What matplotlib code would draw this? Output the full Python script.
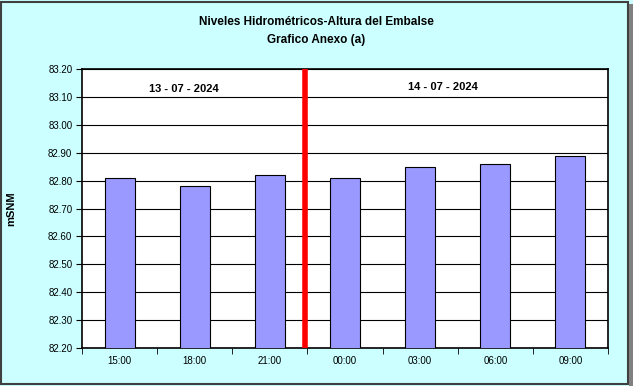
import numpy as np
import matplotlib.pyplot as plt
from matplotlib.patches import Rectangle

plt.rcParams['font.family'] = ['Liberation Sans', 'DejaVu Sans']

horas = ['15:00', '18:00', '21:00', '00:00', '03:00', '06:00', '09:00']
alturas = [82.81, 82.78, 82.82, 82.81, 82.85, 82.86, 82.89]
fechas = ['13 - 07 - 2024', '14 - 07 - 2024']
yticks = np.arange(82.20, 83.21, 0.10)

fig = plt.figure(figsize=(6.33, 3.86), dpi=100, facecolor='#CCFFFF')
ax = fig.add_axes([0.1295, 0.0984, 0.831, 0.7228])

x = np.arange(len(horas))
ax.bar(x, alturas, width=0.4, color='#9999FF', edgecolor='black', linewidth=0.8, zorder=3)
ax.set_xlim(-0.5, len(horas) - 0.5)
ax.set_ylim(82.20, 83.20)
ax.set_yticks(yticks)
ax.set_yticklabels(['%.2f' % v for v in yticks], fontsize=7)
ax.yaxis.grid(True, color='black', linewidth=0.8, zorder=0)

ax.set_xticks(x)
ax.set_xticklabels(horas, fontsize=7)
ax.tick_params(axis='x', length=0, pad=6)
ax.set_xticks(np.arange(-0.5, len(horas)), minor=True)
ax.tick_params(axis='x', which='minor', length=4, direction='out')
ax.tick_params(axis='y', length=4, direction='out', pad=3)

for s in ax.spines.values():
    s.set_linewidth(1.2)

ax.axvline(2.47, color='red', linewidth=4, zorder=4)
ax.text(0.85, 83.13, fechas[0], ha='center', va='center', fontsize=8, fontweight='bold')
ax.text(4.3, 83.135, fechas[1], ha='center', va='center', fontsize=8, fontweight='bold')

fig.text(0.018, 0.46, 'mSNM', rotation=90, ha='center', va='center', fontsize=8, fontweight='bold')

fig.text(0.5, 0.943, 'Niveles Hidrométricos-Altura del Embalse', ha='center', va='center',
         fontsize=8.5, fontweight='bold')
fig.text(0.5, 0.896, 'Grafico Anexo (a)', ha='center', va='center', fontsize=8.5, fontweight='bold')

fig.patches.append(Rectangle((0.002, 0.004), 0.990, 0.99, transform=fig.transFigure,
                             fill=False, edgecolor='#404040', linewidth=1.5))
fig.patches.append(Rectangle((0.993, 0.0), 0.007, 0.99, transform=fig.transFigure,
                             facecolor='#808080', edgecolor='none'))

fig.savefig('out.png', dpi=100, facecolor=fig.get_facecolor())
